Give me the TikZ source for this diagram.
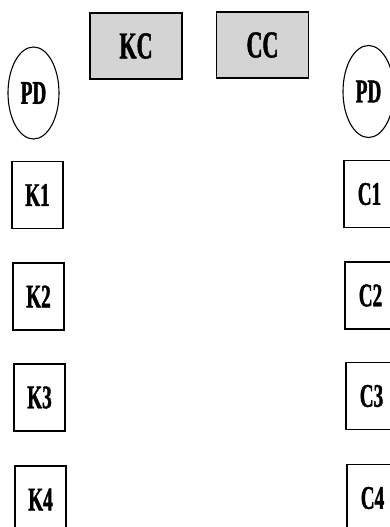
\documentclass[tikz,border=0pt]{standalone}
\usepackage{fontspec}
\newfontfamily\labelfont[FakeStretch=0.58,FakeBold=1.2]{Liberation Serif Bold}
\usetikzlibrary{shapes.geometric}
\begin{document}
\begin{tikzpicture}[
                x=1pt, y=-1pt,
                every node/.style={draw, line width=1.1pt, inner sep=0pt,
                    font=\labelfont\fontsize{33}{33}\selectfont},
                pd/.style={ellipse, minimum width=51pt, minimum height=92pt},
                unit/.style={rectangle, minimum width=51pt, minimum height=67pt},
                ctrl/.style={rectangle, fill=black!17, minimum width=92pt, minimum height=66pt,
                    font=\labelfont\fontsize{38}{38}\selectfont}
            ]
            \useasboundingbox (0,0) rectangle (390,527);

            % control boxes on top
            \node[ctrl] (kc) at (136,46) {KC};
            \node[ctrl] (cc) at (262.5,45) {CC};

            % left column
            \node[pd] (pdl) at (33.5,93) {PD};
            \node[unit] (k1) at (37.5,195) {K1};
            \node[unit] (k2) at (38.5,296.5) {K2};
            \node[unit] (k3) at (39.5,397.5) {K3};
            \node[unit] (k4) at (40.5,499.5) {K4};

            % right column
            \node[pd] (pdr) at (368.5,91.5) {PD};
            \node[unit] (c1) at (369.5,194) {C1};
            \node[unit] (c2) at (370.5,295.5) {C2};
            \node[unit] (c3) at (371.5,396) {C3};
            \node[unit] (c4) at (372.5,498) {C4};

        \end{tikzpicture}
\end{document}
